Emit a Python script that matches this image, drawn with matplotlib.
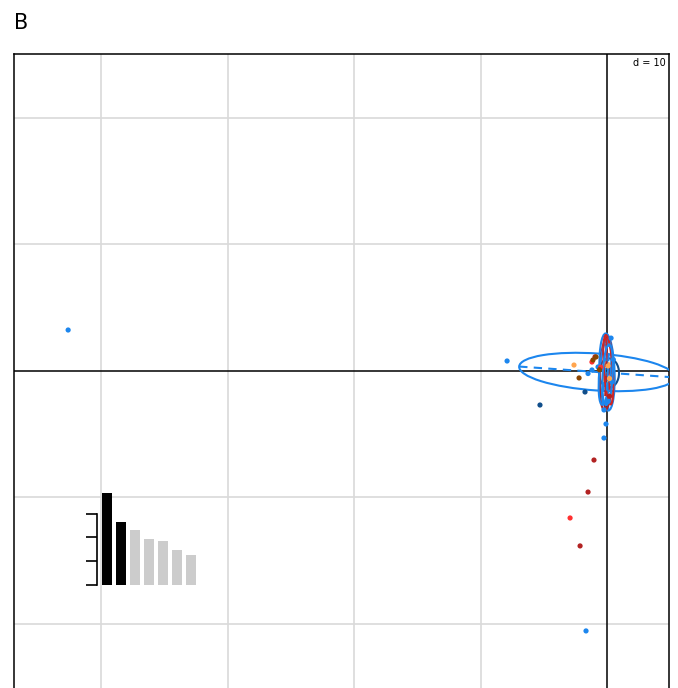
import numpy as np
import matplotlib.pyplot as plt
from matplotlib.patches import Ellipse

# individual scores (axis 1, axis 2) grouped by colour
pts_blue_x = [-42.6, -7.9, -0.08, -0.24, -1.66, -1.19, -0.71, 0.40, 0.32, -0.24, -1.5, 0.5, 0.1]
pts_blue_y = [3.24, 0.79, -4.19, -5.30, -20.55, 0.08, 0.32, -0.87, 2.60, -3.08, -0.2, 0.9, -2.4]
pts_navy_x = [-5.30, -1.74]
pts_navy_y = [-2.69, -1.66]
pts_dred_x = [-1.03, -1.50, -2.13, -0.95, 0.2]
pts_dred_y = [-7.04, -9.57, -13.83, 1.11, -2.0]
pts_red_x = [-2.92, -1.19, -0.5]
pts_red_y = [-11.62, 0.71, 0.3]
pts_orange_x = [-2.61, 0.08, 0.2]
pts_orange_y = [0.47, 0.40, -0.6]
pts_brown_x = [-2.21, -0.87, -1.11, -0.6]
pts_brown_y = [-0.55, 1.11, 0.87, 0.1]

# class ellipses: centre x, centre y, half width, half height, angle, colour
ell_x = [-0.79, 0.16, 0.08, 0.0, -0.08, -0.16, 0.1, 0.05]
ell_y = [-0.08, -0.16, -0.24, -0.08, -0.24, -0.08, 0.1, -0.3]
ell_a = [6.17, 0.79, 0.40, 0.60, 0.50, 0.45, 0.35, 0.40]
ell_b = [1.46, 1.15, 0.87, 3.05, 2.90, 2.60, 2.75, 2.40]
ell_ang = [-4, 0, 0, 2, -2, -5, 4, -3]
ell_col = ["#1C86EE", "#104E8B", "#FFA54F", "#1C86EE", "#B22222",
           "#1C86EE", "#CD2626", "#1C86EE"]

# eigenvalues (relative)
eig = [92, 63, 55, 46, 44, 35, 30]
eig_ticks = [0, 24, 48, 71]

fig = plt.figure(figsize=(6.78, 6.88), dpi=100)
ax = fig.add_axes([14/678, -2/688, 655/678, 636/688])
ax.set_xlim(-46.88, 4.90)
ax.set_ylim(-25.22, 25.06)
for v in [-40, -30, -20, -10]:
    ax.axvline(v, color="#D9D9D9", lw=1.2, zorder=0)
for v in [-20, -10, 10, 20]:
    ax.axhline(v, color="#D9D9D9", lw=1.2, zorder=0)
ax.axvline(0, color="black", lw=1.1, zorder=1)
ax.axhline(0, color="black", lw=1.1, zorder=1)
ax.set_xticks([])
ax.set_yticks([])
for s in ax.spines.values():
    s.set_linewidth(1.1)

for x, y, a, b, ang, c in zip(ell_x, ell_y, ell_a, ell_b, ell_ang, ell_col):
    ax.add_patch(Ellipse((x, y), 2*a, 2*b, angle=ang, fill=False,
                         edgecolor=c, lw=1.5, zorder=3))
    t = np.deg2rad(ang)
    if a >= b:
        dx, dy = a*np.cos(t), a*np.sin(t)
    else:
        dx, dy = -b*np.sin(t), b*np.cos(t)
    ax.plot([x-dx, x+dx], [y-dy, y+dy], color=c, lw=1.5, ls=(0, (4, 3)), zorder=3)

groups = [(pts_blue_x, pts_blue_y, "#1C86EE"), (pts_navy_x, pts_navy_y, "#104E8B"),
          (pts_dred_x, pts_dred_y, "#B22222"), (pts_red_x, pts_red_y, "#FF3030"),
          (pts_orange_x, pts_orange_y, "#FFA54F"), (pts_brown_x, pts_brown_y, "#8B4500")]
for gx, gy, c in groups:
    ax.scatter(gx, gy, s=14, color=c, edgecolors="none", zorder=4)

ax.text(0.995, 0.993, "d = 10", transform=ax.transAxes, ha="right", va="top",
        fontsize=7, bbox=dict(facecolor="white", edgecolor="none", pad=1), zorder=5)

fig.text(14/678, 1-29/688, "B", fontsize=15, va="baseline", ha="left")

# eigenvalue inset
ins = fig.add_axes([97/678, 103/688, 103/678, 92/688])
ins.patch.set_alpha(0)
ins.bar(range(1, 8), eig, width=10/14,
        color=["black", "black"] + ["#CCCCCC"]*5)
ins.set_xlim(1 - 10/14, 1 + 93/14)
ins.set_ylim(0, 92)
for s in ["top", "right", "bottom"]:
    ins.spines[s].set_visible(False)
ins.spines["left"].set_bounds(0, 71)
ins.spines["left"].set_linewidth(1.2)
ins.set_yticks(eig_ticks)
ins.set_yticklabels([])
ins.tick_params(axis="y", length=8, width=1.2, direction="out")
ins.set_xticks([])

fig.savefig("out.png", dpi=100)
